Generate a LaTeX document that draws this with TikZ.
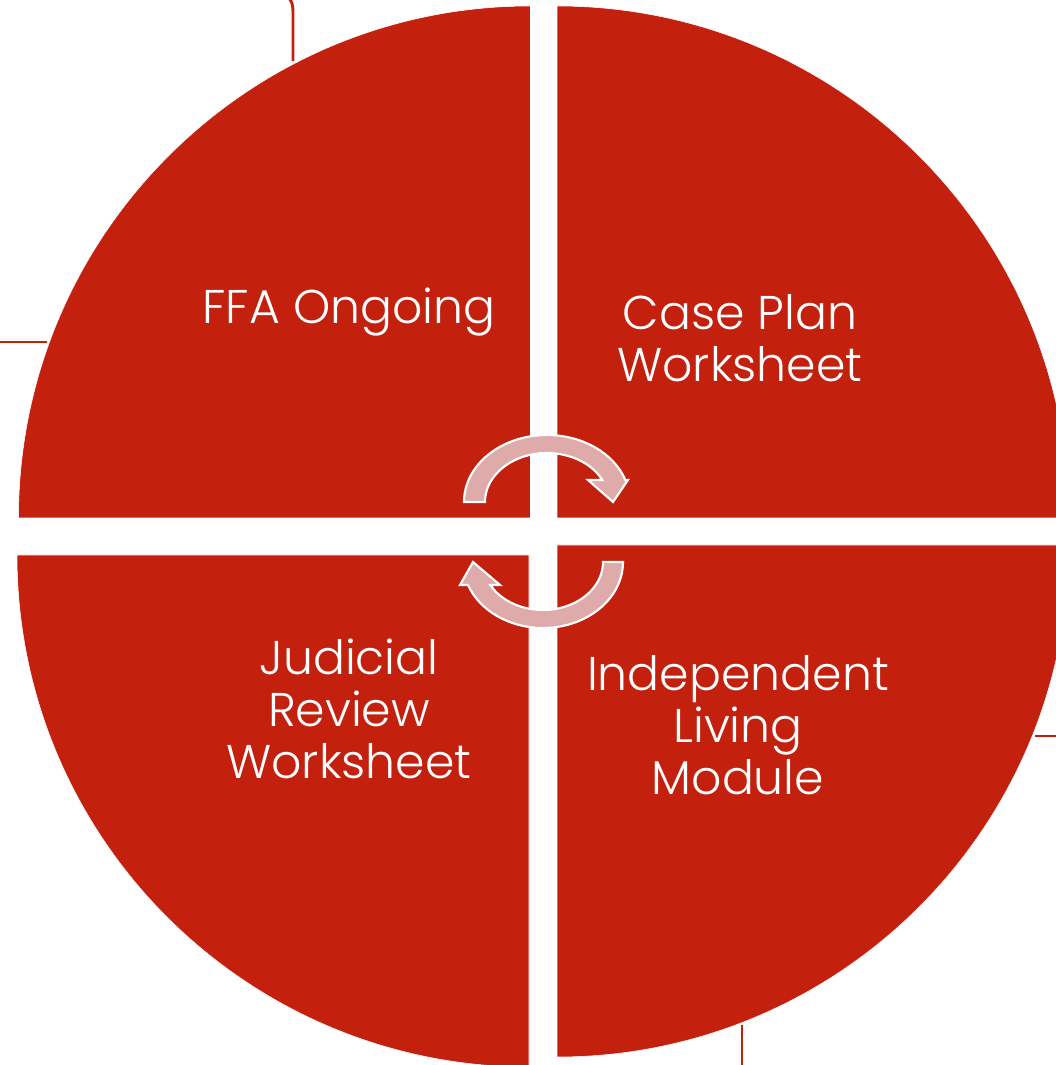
\documentclass[tikz,border=0pt]{standalone}
\usepackage{fontspec}
\setmainfont{Poppins}[UprightFont=* Light]
\begin{document}
\begin{tikzpicture}[x=0.75pt,y=0.75pt,
  quad/.style={fill=qred,draw=white,line width=0.4pt},
  bgline/.style={draw=qred,line width=2.2pt},
  cyc/.style={fill=cpink,draw=white,line width=1.6pt,line join=miter},
  lbl/.style={text=white,font=\fontsize{35.5}{39}\selectfont,align=center,inner sep=0pt}]
\definecolor{qred}{RGB}{195,32,14}
\definecolor{cpink}{RGB}{222,170,170}
\useasboundingbox (0,0) rectangle (1056,1065);
\clip (0,0) rectangle (1056,1065);
% background lines
\path[bgline] (293,1004) -- (293,1052) .. controls (293,1060) and (292,1063) .. (289,1067);
\path[bgline] (0,723) -- (47,723);
\path[bgline] (1035,329) -- (1058,329);
\path[bgline] (742,40) -- (742,-2);
% quadrants
\path[quad] (530.5,547) -- ++(-512,0) arc[start angle=180,end angle=90,radius=512] -- cycle;
\path[quad] (557,547) -- ++(0,512) arc[start angle=90,end angle=0,radius=512] -- cycle;
\path[quad] (529,510) -- ++(-512,0) arc[start angle=180,end angle=270,radius=512] -- cycle;
\path[quad] (557,520) -- ++(512,0) arc[start angle=0,end angle=-90,radius=512] -- cycle;
% labels
\node[lbl] (ffa) at (349,753) {FFA Ongoing};
\node[lbl] (cpw) at (740,727) {Case Plan\\Worksheet};
\node[lbl] (jrw) at (349,356) {Judicial\\Review\\Worksheet};
\node[lbl] (ilm) at (738,340) {Independent\\Living\\Module};
% cycle arrows
\path[cyc] (464,563) arc[start angle=180,end angle=19,x radius=83,y radius=67]
  -- (628,585) -- (613,563) -- (588,585) -- (602.4,585)
  arc[start angle=26.7,end angle=180,x radius=62,y radius=49] -- cycle;
\path[cyc] (623,503) arc[start angle=0,end angle=-159.6,x radius=80,y radius=66]
  -- (460,480) -- (473,503) -- (500,480) -- (490.3,480)
  arc[start angle=-151.4,end angle=0,x radius=60,y radius=48] -- cycle;
\end{tikzpicture}
\end{document}
